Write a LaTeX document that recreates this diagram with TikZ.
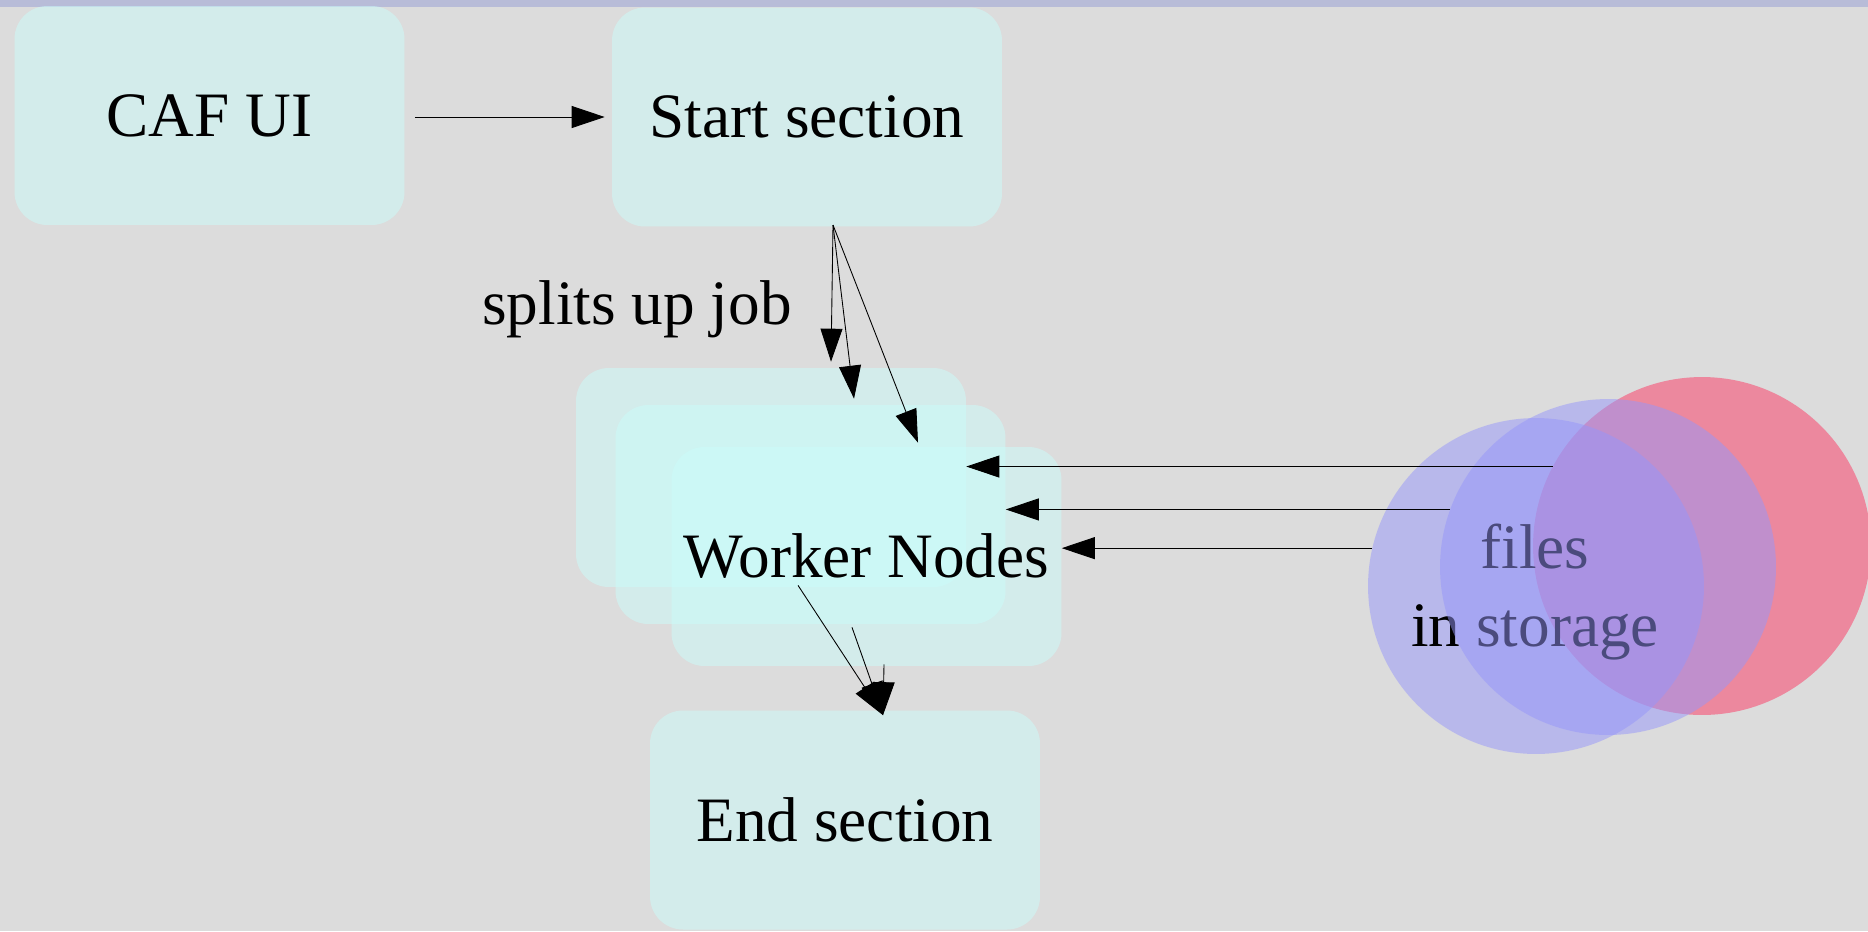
\documentclass[tikz,border=0pt]{standalone}
\usepackage{fontspec}
\setmainfont{Liberation Serif}
\usetikzlibrary{arrows.meta,calc}
\definecolor{paper}{RGB}{220,220,220}
\definecolor{topbar}{RGB}{184,188,216}
\definecolor{boxfill}{RGB}{203,252,250}
\definecolor{diskblue}{RGB}{150,150,250}
\definecolor{diskred}{RGB}{236,136,158}
\begin{document}
\begin{tikzpicture}[x=0.02cm, y=-0.02cm,
    every node/.style={font=\fontsize{36}{44}\selectfont},
    box/.style={rounded corners=0.66cm, fill=boxfill, fill opacity=0.53, text opacity=1,
                minimum width=7.8cm, minimum height=4.38cm, inner sep=0pt},
    disk/.style={circle, fill=diskblue, fill opacity=0.5, minimum size=6.72cm, inner sep=0pt},
    link/.style={line width=0.5pt, -{Triangle[length=0.66cm, width=0.44cm]}}]
    \fill[paper] (0,0) rectangle (1868,931);
    \useasboundingbox (0,0) rectangle (1868,931);
    \fill[topbar] (0,0) rectangle (1868,7);

    \node[box] (caf) at (209.5,115.5) {CAF UI};
    \node[box] (start) at (807,117) {Start section};
    \node[box] (w1) at (771,477.5) {};
    \node[box] (w2) at (810.5,514.5) {};
    \node[box] (w3) at (866.5,556.5) {Worker Nodes};
    \node[box] (end) at (845,820) {End section};
    \node[anchor=base] (split) at (637,324) {splits up job};

    % storage disks, the text sits between them
    \node[disk, fill=diskred, fill opacity=1, minimum size=6.76cm] (c3) at (1702,546) {};
    \node[disk] (c1) at (1536,586) {};
    \node[align=center] (files) at (1535,592) {files\\in storage};
    \node[disk] (c2) at (1608,567) {};

    \draw[link, shorten <=0.2cm, shorten >=0.14cm] (caf.east |- start.west) -- (start.west);

    \coordinate (fork) at (833,225);
    \draw[link] (fork) -- ($(w1.north)+(60,-6)$);
    \draw[link] (fork) -- ($(w2.north)+(43.5,-6)$);
    \draw[link] (fork) -- ($(w3.north)+(51.5,-4)$);

    \coordinate (merge) at ($(end.north)+(38,5)$);
    \draw[link] ($(w1.south)+(27,-2)$) -- (merge);
    \draw[link] ($(w2.south)+(41.5,3)$) -- (merge);
    \draw[link] ($(w3.south)+(17.5,-2)$) -- (merge);

    \draw[link] (c3.152) -- (c3.152 -| w1.east);
    \draw[link] (c2.160) -- (c2.160 -| w2.east);
    \draw[link] (c1.167) -- (c1.167 -| w3.east);
\end{tikzpicture}
\end{document}
